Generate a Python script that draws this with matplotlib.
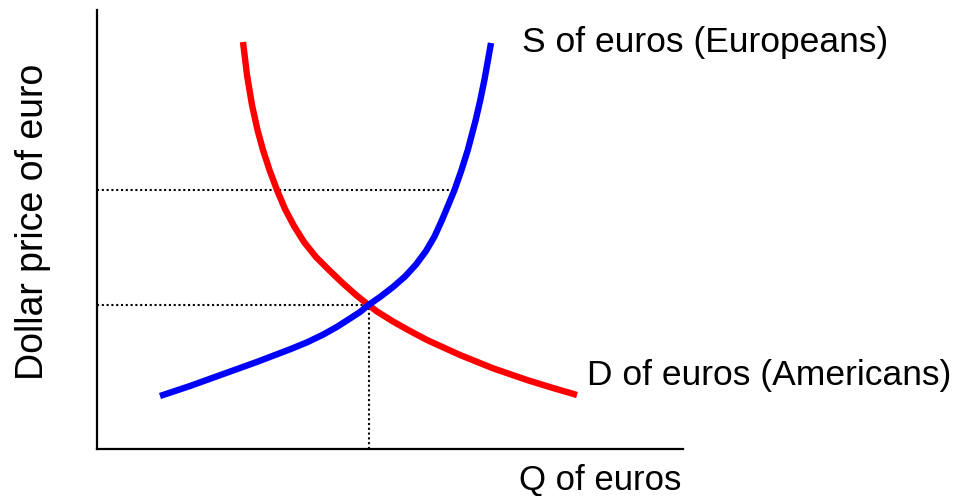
import matplotlib
matplotlib.use("Agg")
import matplotlib.pyplot as plt

plt.rcParams['font.family'] = ['Liberation Sans', 'DejaVu Sans']

# demand curve (Americans)
demand_q = [146, 150, 155, 160.5, 166, 172.5, 180, 188, 197, 207, 219, 232, 245, 259, 271.5,
            280, 296, 313, 330, 346.5, 363, 396, 430, 455, 480]
demand_p = [407, 374, 344, 319, 299, 279, 259, 240, 223, 207, 192, 179, 166.5, 154, 144,
            137.5, 127.5, 118, 109, 101.5, 94, 80.7, 69, 61.3, 54]

# supply curve (Europeans)
supply_q = [63, 93, 126.3, 159.7, 193, 209.7, 226.3, 239.7, 253, 263, 271.5,
            283, 296, 308, 319, 329, 337.5, 345, 351.5, 357.5, 364.5, 370.8, 378.7,
            383.3, 387.4, 391, 394]
supply_p = [53, 63, 75, 87, 99.7, 106.5, 114.5, 122, 130.5, 137, 144,
            152, 162, 172.5, 184.5, 198, 212.5, 229, 244.5, 259, 279, 299, 329,
            349, 369, 389, 406]

# guide lines
eq_q, eq_p = 271.5, 144
high_q, high_p = 357.5, 259

fig = plt.figure(figsize=(9.63, 4.96), dpi=100)
ax = fig.add_axes([97 / 963, 47 / 496, 586 / 963, 439 / 496])

dots = dict(color='black', lw=1.5, linestyle=(0, (1, 1.3)))
ax.plot([0, high_q], [high_p, high_p], **dots)
ax.plot([0, eq_q], [eq_p, eq_p], **dots)
ax.plot([eq_q, eq_q], [0, eq_p], **dots)

ax.plot(demand_q, demand_p, color='#ff0000', lw=4.6, solid_joinstyle='round', solid_capstyle='butt')
ax.plot(supply_q, supply_p, color='#0000ff', lw=4.6, solid_joinstyle='round', solid_capstyle='butt')

ax.set_xlim(0, 586)
ax.set_ylim(0, 439)
ax.set_xticks([])
ax.set_yticks([])
for s in ['top', 'right']:
    ax.spines[s].set_visible(False)
for s in ['left', 'bottom']:
    ax.spines[s].set_linewidth(1.6)

ax.text(425, 397, 'S of euros (Europeans)', fontsize=25.5, ha='left', va='baseline')
ax.text(490, 64, 'D of euros (Americans)', fontsize=25.5, ha='left', va='baseline')
ax.text(422, -41, 'Q of euros', fontsize=25, ha='left', va='baseline')
ax.text(-64, 227, 'Dollar price of euro', fontsize=27, rotation=90, ha='center', va='center')

fig.savefig('out.png', dpi=100)
